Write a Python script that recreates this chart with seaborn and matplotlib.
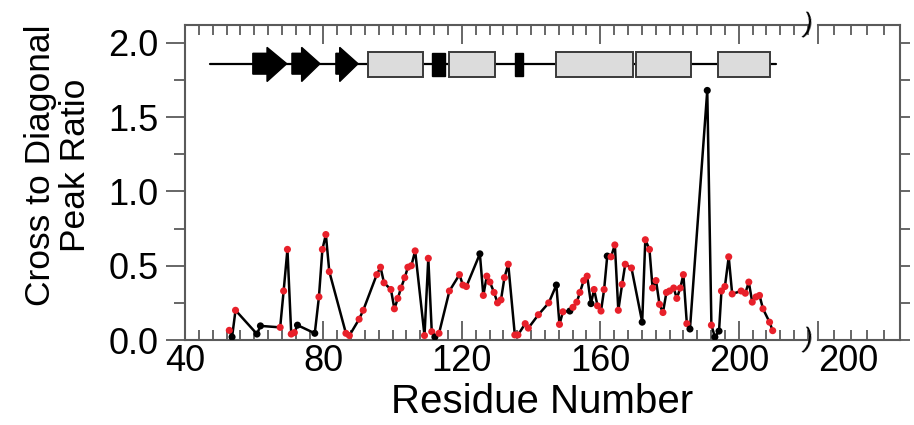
import matplotlib
matplotlib.use('Agg')
import matplotlib.pyplot as plt
import seaborn as sns
import pandas as pd
from matplotlib.ticker import MultipleLocator, FixedLocator
from matplotlib.patches import Rectangle, Polygon

# ---------------- data ----------------
residues = [52.8, 53.6, 54.6, 60.8, 61.8, 67.5, 68.5, 69.6, 70.7, 71.6, 72.5,
            77.5, 78.7, 79.7, 80.7, 81.7, 86.5, 87.5, 90.3, 91.5, 95.4, 96.5,
            97.5, 99.5, 100.5, 101.5, 102.4, 103.5, 104.4, 105.4, 106.5, 109.2,
            110.3, 111.3, 112.2, 113.4, 116.4, 119.3, 120.3, 121.3, 125.2, 126.2,
            127.2, 128.1, 129.3, 130.3, 131.3, 132.3, 133.4, 135.3, 136.2, 138.3,
            139.2, 142.1, 145.1, 147.3, 148.2, 149.2, 151.2, 152.1, 153.2, 154.1,
            155.2, 156.2, 157.3, 158.2, 159.2, 160.2, 161.1, 162.0, 163.1, 164.2,
            165.2, 166.3, 167.2, 169.0, 172.1, 173.0, 174.2, 175.1, 176.1, 177.1,
            178.1, 179.1, 180.0, 181.2, 182.1, 183.1, 184.0, 185.0, 185.9, 190.9,
            192.1, 193.1, 194.3, 195.0, 196.0, 197.1, 198.1, 200.7, 201.9, 202.9,
            203.9, 205.0, 206.0, 207.0, 208.9, 209.8]
ratios = [0.065, 0.02, 0.20, 0.04, 0.095, 0.085, 0.33, 0.61, 0.04, 0.05, 0.10,
          0.045, 0.29, 0.61, 0.71, 0.46, 0.045, 0.03, 0.14, 0.20, 0.44, 0.49,
          0.385, 0.34, 0.21, 0.28, 0.35, 0.42, 0.49, 0.50, 0.60, 0.03,
          0.55, 0.056, 0.02, 0.045, 0.33, 0.44, 0.37, 0.36, 0.58, 0.30,
          0.43, 0.39, 0.32, 0.25, 0.27, 0.42, 0.51, 0.034, 0.034, 0.11,
          0.08, 0.17, 0.25, 0.37, 0.105, 0.19, 0.195, 0.22, 0.255, 0.32,
          0.40, 0.43, 0.245, 0.34, 0.23, 0.195, 0.34, 0.565, 0.56, 0.64,
          0.20, 0.375, 0.51, 0.485, 0.12, 0.675, 0.61, 0.35, 0.40, 0.24,
          0.185, 0.32, 0.33, 0.35, 0.28, 0.35, 0.44, 0.11, 0.074, 1.68,
          0.10, 0.02, 0.06, 0.33, 0.36, 0.56, 0.31, 0.33, 0.315, 0.39,
          0.255, 0.29, 0.30, 0.21, 0.12, 0.063]
kinds = ['red', 'black', 'red', 'black', 'black', 'red', 'red', 'red', 'red', 'red', 'black',
         'black', 'red', 'red', 'red', 'red', 'red', 'red', 'red', 'red', 'red', 'red',
         'red', 'red', 'red', 'red', 'red', 'red', 'red', 'red', 'red', 'red',
         'red', 'red', 'black', 'red', 'red', 'red', 'red', 'red', 'black', 'red',
         'red', 'red', 'red', 'red', 'red', 'red', 'red', 'red', 'red', 'red',
         'red', 'red', 'red', 'black', 'red', 'red', 'black', 'red', 'red', 'red',
         'red', 'red', 'black', 'red', 'red', 'red', 'red', 'black', 'red', 'red',
         'red', 'red', 'red', 'red', 'black', 'red', 'red', 'red', 'red', 'red',
         'red', 'red', 'red', 'red', 'red', 'red', 'red', 'red', 'black', 'black',
         'red', 'black', 'black', 'red', 'red', 'red', 'red', 'red', 'red', 'red',
         'red', 'red', 'red', 'red', 'red', 'red']

# secondary-structure topology (residue ranges)
topo_line = (47.3, 210.8)
strands = [(59.6, 63.7, 69.4), (70.9, 73.7, 79.0), (83.6, 84.7, 90.0)]  # start, head base, tip
helices = [(92.8, 108.8), (116.4, 129.6), (147.3, 169.3), (170.3, 186.1), (194.0, 209.1)]
turns = [(111.4, 115.0), (135.3, 137.7)]

x_ticks = [40, 80, 120, 160, 200]
y_ticks = [0.0, 0.5, 1.0, 1.5, 2.0]

# ---------------- style ----------------
sns.set_theme(style='white')
plt.rcParams['font.family'] = ['Liberation Sans', 'DejaVu Sans']
plt.rcParams['text.color'] = 'black'
plt.rcParams['axes.labelcolor'] = 'black'
plt.rcParams['xtick.labelcolor'] = 'black'
plt.rcParams['ytick.labelcolor'] = 'black'
spine_c = '#5a5a5a'

fig = plt.figure(figsize=(9.14, 4.25), dpi=100)
ax = fig.add_axes([0.2024, 0.2, 0.6816, 0.741])
ax2 = fig.add_axes([0.895, 0.2, 0.0897, 0.741])

df = pd.DataFrame({'residue': residues, 'ratio': ratios, 'kind': kinds})
sns.lineplot(data=df, x='residue', y='ratio', sort=False, estimator=None,
             color='black', lw=1.8, ax=ax, zorder=2)
sns.scatterplot(data=df, x='residue', y='ratio', hue='kind',
                palette={'red': '#e8202a', 'black': 'black'},
                s=26, linewidth=0, legend=False, ax=ax, zorder=3)

# topology
yl, yb0, yb1, yh0, yh1 = 1.86, 1.79, 1.93, 1.74, 1.97
ax.plot(topo_line, [yl, yl], color='black', lw=1.6, zorder=1)
for s, hb, tip in strands:
    ax.add_patch(Polygon([(s, yb0), (hb, yb0), (hb, yh0), (tip, yl), (hb, yh1),
                          (hb, yb1), (s, yb1)], closed=True, fc='black', ec='black',
                         lw=1, zorder=2))
for a, b in helices:
    ax.add_patch(Rectangle((a, 1.77), b - a, 0.17, fc='#dcdcdc', ec='#3a3a3a',
                           lw=1.4, zorder=2))
for a, b in turns:
    ax.add_patch(Rectangle((a, 1.78), b - a, 0.15, fc='black', ec='black', lw=1, zorder=2))

for a in (ax, ax2):
    a.set_ylim(0, 2.12)
    for sp in a.spines.values():
        sp.set_color(spine_c)
        sp.set_linewidth(1.5)

ax.set_xlim(40, 220)
ax.spines['right'].set_visible(False)
ax.xaxis.set_major_locator(FixedLocator(x_ticks))
ax.xaxis.set_minor_locator(MultipleLocator(4))
ax.yaxis.set_major_locator(FixedLocator(y_ticks))
ax.yaxis.set_minor_locator(MultipleLocator(0.25))
ax.set_yticklabels([f'{v:.1f}' for v in y_ticks])
ax.tick_params(axis='x', which='both', direction='in', top=True, bottom=True,
               color=spine_c, width=1.3, labelsize=26, pad=3)
ax.tick_params(axis='x', which='major', length=14)
ax.tick_params(axis='x', which='minor', length=7)
ax.tick_params(axis='y', which='both', direction='out', left=True, right=False,
               color=spine_c, width=1.3, labelsize=26, pad=5)
ax.tick_params(axis='y', which='major', length=14)
ax.tick_params(axis='y', which='minor', length=8)
ax.set_xlabel('Residue Number', fontsize=29)
ax.set_ylabel('Cross to Diagonal\nPeak Ratio', fontsize=25.5, linespacing=1.05)
ax.xaxis.set_label_coords(0.573, -0.135)
ax.yaxis.set_label_coords(-0.15, 0.556)

ax2.set_xlim(200, 225)
ax2.spines['left'].set_visible(False)
ax2.xaxis.set_major_locator(FixedLocator([200]))
ax2.xaxis.set_minor_locator(MultipleLocator(5))
ax2.set_xticklabels(['200'])
for t in ax2.get_xticklabels():
    t.set_horizontalalignment('left')
ax2.yaxis.set_major_locator(FixedLocator(y_ticks))
ax2.yaxis.set_minor_locator(MultipleLocator(0.25))
ax2.tick_params(axis='x', which='both', direction='in', top=True, bottom=True,
                color=spine_c, width=1.3, labelsize=26, pad=3)
ax2.tick_params(axis='x', which='major', length=14)
ax2.tick_params(axis='x', which='minor', length=7)
ax2.tick_params(axis='y', which='both', direction='out', left=False, right=True,
                labelleft=False, labelright=False, color=spine_c, width=1.3, length=7)
ax2.set_xlabel('')
ax2.set_ylabel('')

# break marks
for yy in (0, 1):
    ax.text(1.0, yy, ')', transform=ax.transAxes, ha='center', va='center',
            fontsize=20, color='black', rotation=-10)

fig.savefig('out.png', dpi=100)
